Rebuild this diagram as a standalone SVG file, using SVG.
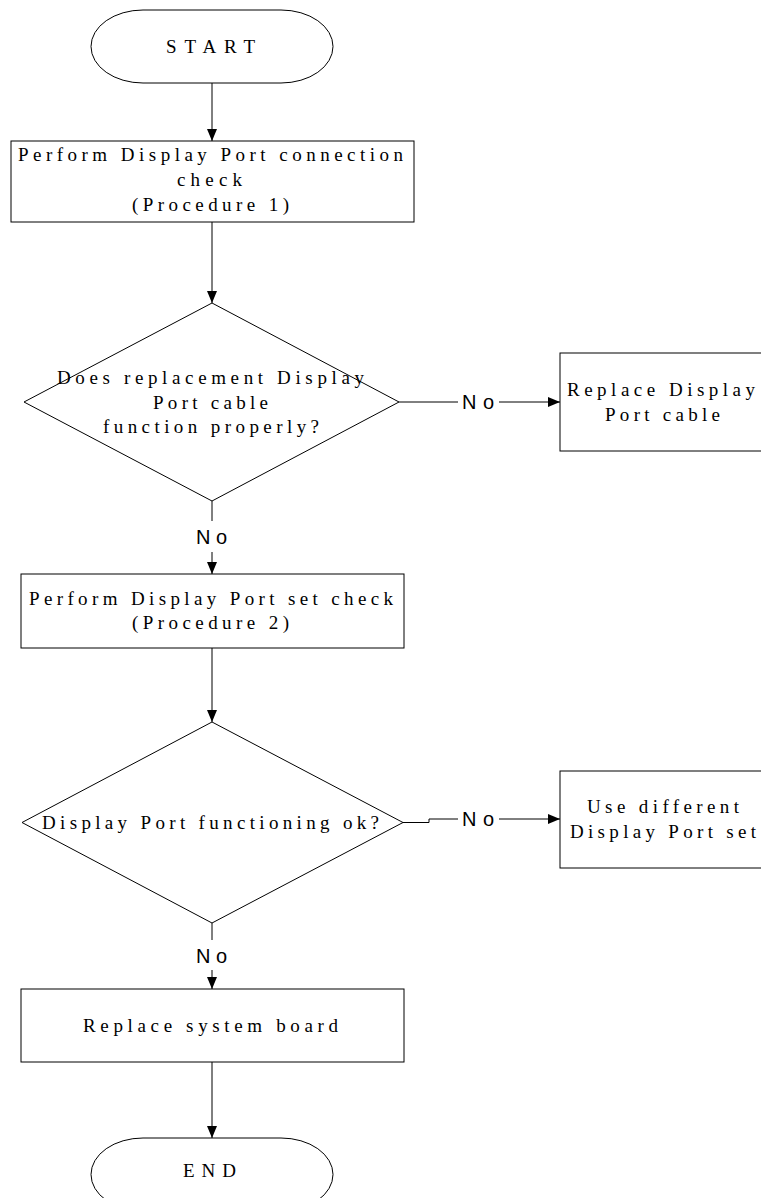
<svg xmlns="http://www.w3.org/2000/svg" width="761" height="1198" viewBox="0 0 761 1198">
<style>
.shape{fill:#fff;stroke:#000;stroke-width:1}
.t{font-family:"Liberation Serif","Times New Roman",serif;font-size:19px;fill:#000}
.n{font-family:"Liberation Sans",Arial,sans-serif;font-size:20px;fill:#000}
.c{fill:none;stroke:#000;stroke-width:1}
</style>
<defs>
<marker id="ah" viewBox="0 0 12 12" refX="12" refY="6" markerWidth="12" markerHeight="12" markerUnits="userSpaceOnUse" orient="auto">
<path d="M0,1 L12,6 L0,11 Z" fill="#000"/>
</marker>
</defs>
<rect width="761" height="1198" fill="#fff"/>
<g id="connectors">
<line class="c" x1="212" y1="83" x2="212" y2="141" marker-end="url(#ah)"/>
<line class="c" x1="212" y1="222" x2="212" y2="303" marker-end="url(#ah)"/>
<line class="c" x1="399" y1="402" x2="458" y2="402"/>
<line class="c" x1="499" y1="402" x2="560" y2="402" marker-end="url(#ah)"/>
<text class="n" x="462" y="409" textLength="32" lengthAdjust="spacing">No</text>
<line class="c" x1="212" y1="501" x2="212" y2="521"/>
<text class="n" x="196" y="544" textLength="31" lengthAdjust="spacing">No</text>
<line class="c" x1="212" y1="552" x2="212" y2="574" marker-end="url(#ah)"/>
<line class="c" x1="212" y1="648" x2="212" y2="722" marker-end="url(#ah)"/>
<polyline class="c" points="403,822.5 429,822.5 429,819 458,819"/>
<text class="n" x="462" y="826" textLength="32" lengthAdjust="spacing">No</text>
<line class="c" x1="499" y1="819" x2="560" y2="819" marker-end="url(#ah)"/>
<line class="c" x1="212" y1="923" x2="212" y2="940"/>
<text class="n" x="196" y="963" textLength="31" lengthAdjust="spacing">No</text>
<line class="c" x1="212" y1="970" x2="212" y2="989" marker-end="url(#ah)"/>
<line class="c" x1="212" y1="1062" x2="212" y2="1138" marker-end="url(#ah)"/>
</g>
<g id="start">
<rect class="shape" x="91" y="10" width="242" height="73" rx="52" ry="36.5"/>
<text class="t" x="166" y="53" textLength="89" lengthAdjust="spacing">START</text>
</g>
<g id="box1">
<rect class="shape" x="11" y="141" width="403" height="81"/>
<text class="t" x="18" y="161" textLength="385" lengthAdjust="spacing">Perform Display Port connection</text>
<text class="t" x="177" y="186" textLength="65" lengthAdjust="spacing">check</text>
<text class="t" x="132" y="211" textLength="157" lengthAdjust="spacing">(Procedure 1)</text>
</g>
<g id="decision1">
<polygon class="shape" points="212,303 399,402 212,501 24,402"/>
<text class="t" x="57" y="384" textLength="307" lengthAdjust="spacing">Does replacement Display</text>
<text class="t" x="153" y="409" textLength="115" lengthAdjust="spacing">Port cable</text>
<text class="t" x="103" y="433" textLength="216" lengthAdjust="spacing">function properly?</text>
</g>
<g id="replaceCable">
<rect class="shape" x="560" y="353" width="210" height="98"/>
<text class="t" x="567" y="396" textLength="188" lengthAdjust="spacing">Replace Display</text>
<text class="t" x="605" y="421" textLength="115" lengthAdjust="spacing">Port cable</text>
</g>
<g id="box2">
<rect class="shape" x="21" y="574" width="383" height="74"/>
<text class="t" x="29" y="605" textLength="364" lengthAdjust="spacing">Perform Display Port set check</text>
<text class="t" x="132" y="629" textLength="157" lengthAdjust="spacing">(Procedure 2)</text>
</g>
<g id="decision2">
<polygon class="shape" points="212,722 403,822.5 212,923 22,822.5"/>
<text class="t" x="42" y="829" textLength="337" lengthAdjust="spacing">Display Port functioning ok?</text>
</g>
<g id="useDifferent">
<rect class="shape" x="560" y="771" width="210" height="97"/>
<text class="t" x="587" y="813" textLength="152" lengthAdjust="spacing">Use different</text>
<text class="t" x="570" y="838" textLength="186" lengthAdjust="spacing">Display Port set</text>
</g>
<g id="box3">
<rect class="shape" x="21" y="989" width="383" height="73"/>
<text class="t" x="83" y="1032" textLength="255" lengthAdjust="spacing">Replace system board</text>
</g>
<g id="end">
<rect class="shape" x="91" y="1138" width="242" height="73" rx="52" ry="36.5"/>
<text class="t" x="183" y="1177" textLength="53" lengthAdjust="spacing">END</text>
</g>
</svg>
